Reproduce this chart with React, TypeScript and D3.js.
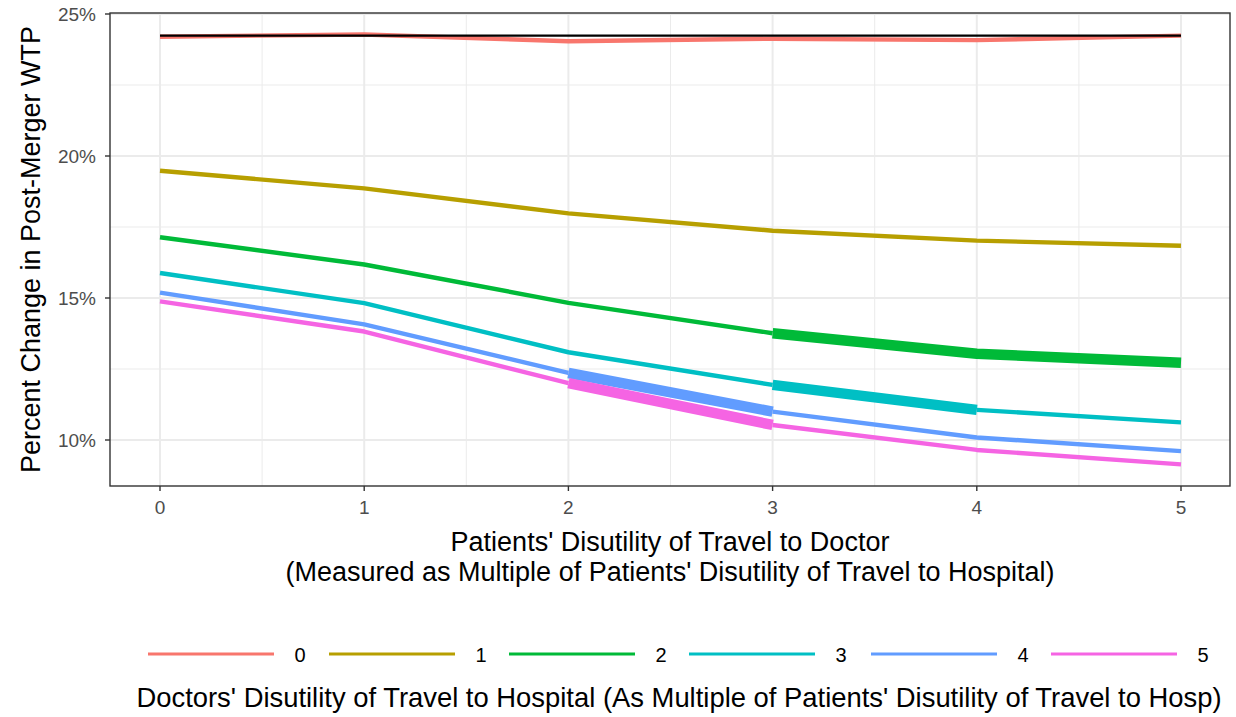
import React from "react";
import * as d3 from "d3";

// Patients' disutility of travel to doctor (x axis)
const travelMultiples = [0, 1, 2, 3, 4, 5];

// Doctors' disutility of travel to hospital (legend groups)
const doctorLevels = ["0", "1", "2", "3", "4", "5"];

// Percent change in post-merger WTP for each doctor level
const wtp0 = [24.2, 24.28, 24.04, 24.13, 24.08, 24.24];
const wtp1 = [19.48, 18.86, 17.98, 17.37, 17.02, 16.84];
const wtp2 = [17.14, 16.18, 14.83, 13.76, 13.04, 12.72];
const wtp3 = [15.88, 14.82, 13.09, 11.94, 11.06, 10.62];
const wtp4 = [15.19, 14.07, 12.36, 11.0, 10.09, 9.61];
const wtp5 = [14.88, 13.82, 12.0, 10.53, 9.65, 9.14];

// Uncertainty weight for each segment (between consecutive x values)
const weight0 = [0, 0, 0, 0, 0];
const weight1 = [0, 0, 0, 0, 0];
const weight2 = [0, 0, 0, 1, 1];
const weight3 = [0, 0, 0, 1, 0];
const weight4 = [0, 0, 1, 0, 0];
const weight5 = [0, 0, 1, 0, 0];

// Baseline (no doctor travel) reference level
const baselineWtp = [24.24, 24.24];
const baselineX = [0, 5];

const yTicks = [10, 15, 20, 25];
const yMinor = [12.5, 17.5, 22.5];
const xMinor = [0.5, 1.5, 2.5, 3.5, 4.5];

const palette = ["#F8766D", "#B79F00", "#00BA38", "#00BFC4", "#619CFF", "#F564E3"];

const seriesValues = [wtp0, wtp1, wtp2, wtp3, wtp4, wtp5];
const seriesWeights = [weight0, weight1, weight2, weight3, weight4, weight5];

const W = 1236;
const H = 717;
const panel = { left: 110, right: 1230, top: 13, bottom: 486 };
const FONT = "'Liberation Sans', Arial, sans-serif";

export default function App() {
  const x = d3.scaleLinear().domain([0, 5]).range([160, 1181]);
  const y = d3.scaleLinear().domain([10, 20]).range([440, 156]);
  const width = d3.scaleLinear().domain([0, 1]).range([4.4, 10.5]);
  const line = d3
    .line<[number, number]>()
    .x((d) => x(d[0]))
    .y((d) => y(d[1]));

  // group consecutive segments with equal weight into runs
  const runs = (vals: number[], wts: number[]) => {
    const out: { w: number; pts: [number, number][] }[] = [];
    wts.forEach((w, i) => {
      const a: [number, number] = [travelMultiples[i], vals[i]];
      const b: [number, number] = [travelMultiples[i + 1], vals[i + 1]];
      const last = out[out.length - 1];
      if (last && last.w === w) last.pts.push(b);
      else out.push({ w, pts: [a, b] });
    });
    return out;
  };

  const legendKeyX = [148, 329, 509, 689, 871, 1051];

  return (
    <svg width={W} height={H} style={{ display: "block", position: "absolute", left: 0, top: 0 }}>
      <rect x={0} y={0} width={W} height={H} fill="#ffffff" />
      <defs>
        <clipPath id="panel-clip">
          <rect x={panel.left} y={panel.top} width={panel.right - panel.left} height={panel.bottom - panel.top} />
        </clipPath>
      </defs>
      {/* grid */}
      <g>
        {yMinor.map((v) => (
          <line key={"ym" + v} x1={panel.left} x2={panel.right} y1={y(v)} y2={y(v)} stroke="#EBEBEB" strokeWidth={1} />
        ))}
        {xMinor.map((v) => (
          <line key={"xm" + v} x1={x(v)} x2={x(v)} y1={panel.top} y2={panel.bottom} stroke="#EBEBEB" strokeWidth={1} />
        ))}
        {yTicks.map((v) => (
          <line key={"yM" + v} x1={panel.left} x2={panel.right} y1={y(v)} y2={y(v)} stroke="#EBEBEB" strokeWidth={2} />
        ))}
        {travelMultiples.map((v) => (
          <line key={"xM" + v} x1={x(v)} x2={x(v)} y1={panel.top} y2={panel.bottom} stroke="#EBEBEB" strokeWidth={2} />
        ))}
      </g>
      {/* series */}
      <g clipPath="url(#panel-clip)">
        {seriesValues.map((vals, si) =>
          runs(vals, seriesWeights[si]).map((r, ri) => (
            <path
              key={si + "-" + ri}
              d={line(r.pts) || ""}
              fill="none"
              stroke={palette[si]}
              strokeWidth={width(r.w)}
              strokeLinejoin="round"
              strokeLinecap="butt"
            />
          ))
        )}
        <path
          d={line(baselineX.map((v, i) => [v, baselineWtp[i]] as [number, number])) || ""}
          fill="none"
          stroke="#000000"
          strokeWidth={2.2}
        />
      </g>
      {/* panel border */}
      <rect
        x={panel.left}
        y={panel.top}
        width={panel.right - panel.left}
        height={panel.bottom - panel.top}
        fill="none"
        stroke="#333333"
        strokeWidth={1.4}
      />
      {/* y axis */}
      {yTicks.map((v) => (
        <g key={"yt" + v}>
          <line x1={panel.left - 5} x2={panel.left} y1={y(v)} y2={y(v)} stroke="#333333" strokeWidth={1.4} />
          <text x={panel.left - 14} y={y(v)} dy="0.35em" textAnchor="end" fontFamily={FONT} fontSize={19} fill="#4D4D4D">
            {v}%
          </text>
        </g>
      ))}
      {/* x axis */}
      {travelMultiples.map((v) => (
        <g key={"xt" + v}>
          <line x1={x(v)} x2={x(v)} y1={panel.bottom} y2={panel.bottom + 5} stroke="#333333" strokeWidth={1.4} />
          <text x={x(v)} y={panel.bottom + 28} textAnchor="middle" fontFamily={FONT} fontSize={19} fill="#4D4D4D">
            {v}
          </text>
        </g>
      ))}
      <text x={(panel.left + panel.right) / 2} y={551} textAnchor="middle" fontFamily={FONT} fontSize={27} fill="#000">
        Patients' Disutility of Travel to Doctor
      </text>
      <text x={(panel.left + panel.right) / 2} y={581} textAnchor="middle" fontFamily={FONT} fontSize={27} fill="#000">
        (Measured as Multiple of Patients' Disutility of Travel to Hospital)
      </text>
      <text
        transform={`translate(39.5, ${(panel.top + panel.bottom) / 2}) rotate(-90)`}
        textAnchor="middle"
        fontFamily={FONT}
        fontSize={27}
        fill="#000"
      >
        Percent Change in Post-Merger WTP
      </text>
      {/* legend */}
      {doctorLevels.map((lbl, i) => (
        <g key={"lg" + lbl}>
          <line x1={legendKeyX[i]} x2={legendKeyX[i] + 126} y1={654} y2={654} stroke={palette[i]} strokeWidth={3} />
          <text x={legendKeyX[i] + 152} y={662} textAnchor="middle" fontFamily={FONT} fontSize={20} fill="#000">
            {lbl}
          </text>
        </g>
      ))}
      <text x={679} y={707} textAnchor="middle" fontFamily={FONT} fontSize={27.4} fill="#000">
        Doctors' Disutility of Travel to Hospital (As Multiple of Patients' Disutility of Travel to Hosp)
      </text>
    </svg>
  );
}
